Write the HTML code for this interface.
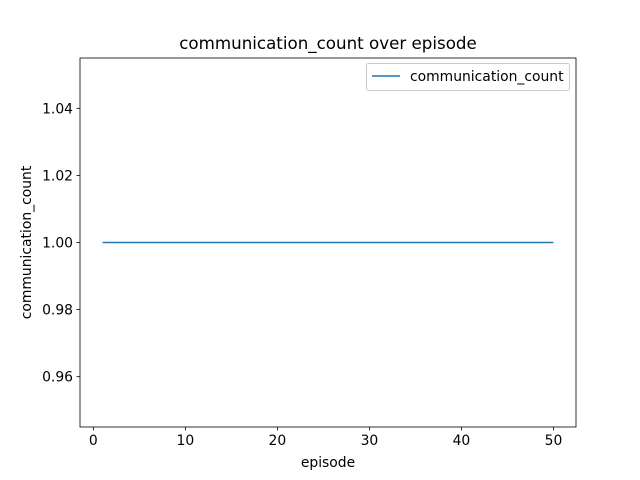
<!DOCTYPE html>
<html><head><meta charset="utf-8"><style>
body{margin:0;background:#fff;}
svg{display:block;font-family:"DejaVu Sans","Liberation Sans",sans-serif;}
</style></head><body>
<svg id="chart" width="640" height="480">
<rect width="640" height="480" fill="#fff"/>
<text x="328" y="49" text-anchor="middle" font-size="16.7">communication_count over episode</text>
<g id="axes"></g>
<text x="328" y="467" text-anchor="middle" font-size="13.9">episode</text>
<text transform="translate(31,242.5) rotate(-90)" text-anchor="middle" font-size="13.9">communication_count</text>
<g>
<rect x="366.5" y="63.5" width="203" height="27" fill="#fff" stroke="#ccc" rx="2"/>
<line x1="372" y1="76" x2="400" y2="76" stroke="#1f77b4" stroke-width="1.5"/>
<text x="410" y="81" font-size="13.9">communication_count</text>
</g>
</svg>
<script>
const episodes=[];for(let i=1;i<=50;i++)episodes.push(i);
const counts=[1,1,1,1,1,1,1,1,1,1,1,1,1,1,1,1,1,1,1,1,1,1,1,1,1,1,1,1,1,1,1,1,1,1,1,1,1,1,1,1,1,1,1,1,1,1,1,1,1,1];
const xTicks=[0,10,20,30,40,50];
const yTicks=[0.96,0.98,1.00,1.02,1.04];
const yTickLabels=["0.96","0.98","1.00","1.02","1.04"];
const L=80,R=576,T=58,B=427;
const x0=-1.45,x1=52.45,y0=0.945,y1=1.055;
const sx=v=>L+(v-x0)/(x1-x0)*(R-L);
const sy=v=>B-(v-y0)/(y1-y0)*(B-T);
const NS="http://www.w3.org/2000/svg";
const g=document.getElementById('axes');
function mk(t,a){const e=document.createElementNS(NS,t);for(const k in a)e.setAttribute(k,a[k]);g.appendChild(e);return e;}
let d='';episodes.forEach((e,i)=>{d+=(i?'L':'M')+sx(e)+','+sy(counts[i]);});
const p=mk('path',{d:d,fill:'none',stroke:'#1f77b4','stroke-width':1.5});


xTicks.forEach(v=>{
 const l=mk('line',{x1:sx(v),x2:sx(v),y1:B,y2:B+3.5,stroke:'#000','stroke-width':0.8});
 
 
 const t=mk('text',{x:sx(v),y:B+18,'text-anchor':'middle','font-size':13.9});t.textContent=v;
 
 
});
yTicks.forEach((v,i)=>{
 const l=mk('line',{x1:L-3.5,x2:L,y1:sy(v),y2:sy(v),stroke:'#000','stroke-width':0.8});
 
 
 const t=mk('text',{x:L-7,y:sy(v)+5,'text-anchor':'end','font-size':13.9});t.textContent=yTickLabels[i];
 
 
});
const f=mk('rect',{x:L,y:T,width:R-L,height:B-T,fill:'none',stroke:'#000','stroke-width':0.8});


</script>
</body></html>
